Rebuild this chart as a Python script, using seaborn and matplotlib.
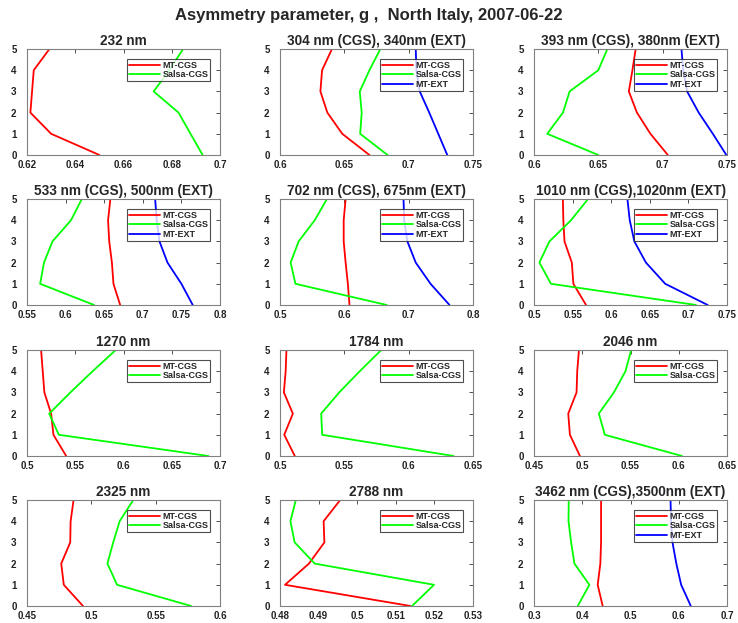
import numpy as np
import pandas as pd
import matplotlib
matplotlib.use("Agg")
import matplotlib.pyplot as plt
import seaborn as sns

sns.set_style("white")
plt.rcParams['font.family'] = ['Liberation Sans', 'DejaVu Sans']

heights = [0, 1, 2, 3, 4, 5]

titles = ["232 nm", "304 nm (CGS), 340nm (EXT)", "393 nm (CGS), 380nm (EXT)",
          "533 nm (CGS), 500nm (EXT)", "702 nm (CGS), 675nm (EXT)", "1010 nm (CGS),1020nm (EXT)",
          "1270 nm", "1784 nm", "2046 nm",
          "2325 nm", "2788 nm", "3462 nm (CGS),3500nm (EXT)"]

mt_cgs_232 = [0.650, 0.630, 0.6214, 0.6221, 0.6228, 0.6293]
salsa_232 = [0.6928, 0.6878, 0.6828, 0.6725, 0.6790, 0.6847]

mt_cgs_304 = [0.6695, 0.6484, 0.6368, 0.6314, 0.6327, 0.6404]
salsa_304 = [0.6836, 0.6623, 0.6635, 0.6620, 0.6695, 0.6780]
mt_ext_340 = [0.7300, 0.7230, 0.7160, 0.7086, 0.7060, 0.7055]

mt_cgs_393 = [0.7040, 0.6905, 0.6800, 0.6737, 0.6765, 0.6790]
salsa_393 = [0.6500, 0.6103, 0.6225, 0.6277, 0.6500, 0.6570]
mt_ext_380 = [0.7495, 0.7390, 0.7280, 0.7190, 0.7160, 0.7146]

mt_cgs_533 = [0.6707, 0.6620, 0.6600, 0.6565, 0.6550, 0.6580]
salsa_533 = [0.6370, 0.5670, 0.5720, 0.5830, 0.6070, 0.6210]
mt_ext_500 = [0.7647, 0.7500, 0.7320, 0.7216, 0.7180, 0.7160]

mt_cgs_702 = [0.6080, 0.6055, 0.6020, 0.5990, 0.5990, 0.6020]
salsa_702 = [0.6660, 0.5240, 0.5165, 0.5290, 0.5540, 0.5730]
mt_ext_675 = [0.7635, 0.7340, 0.7110, 0.6980, 0.6930, 0.6920]

mt_cgs_1010 = [0.5674, 0.5510, 0.5490, 0.5395, 0.5380, 0.5374]
salsa_1010 = [0.7100, 0.5220, 0.5070, 0.5200, 0.5480, 0.5700]
mt_ext_1020 = [0.7250, 0.6700, 0.6450, 0.6300, 0.6240, 0.6210]

mt_cgs_1270 = [0.5406, 0.5274, 0.5250, 0.5180, 0.5163, 0.5146]
salsa_1270 = [0.6880, 0.5330, 0.5230, 0.5450, 0.5680, 0.5920]

mt_cgs_1784 = [0.5115, 0.5033, 0.5100, 0.5030, 0.5044, 0.5050]
salsa_1784 = [0.6350, 0.5328, 0.5320, 0.5460, 0.5620, 0.5787]

mt_cgs_2046 = [0.4976, 0.4872, 0.4855, 0.4941, 0.4948, 0.4966]
salsa_2046 = [0.6034, 0.5234, 0.5172, 0.5328, 0.5448, 0.5507]

mt_cgs_2325 = [0.4935, 0.4786, 0.4766, 0.4836, 0.4839, 0.4862]
salsa_2325 = [0.5776, 0.5200, 0.5125, 0.5170, 0.5220, 0.5326]

mt_cgs_2788 = [0.5138, 0.4813, 0.4875, 0.4915, 0.4913, 0.4956]
salsa_2788 = [0.5142, 0.5199, 0.4890, 0.4838, 0.4827, 0.4841]

mt_cgs_3462 = [0.4423, 0.4320, 0.4375, 0.4390, 0.4390, 0.4390]
salsa_3462 = [0.3907, 0.4148, 0.3838, 0.3770, 0.3715, 0.3720]
mt_ext_3500 = [0.6250, 0.6050, 0.5950, 0.5870, 0.5840, 0.5830]

xticks_list = [
    [0.62, 0.64, 0.66, 0.68, 0.7],
    [0.6, 0.65, 0.7, 0.75],
    [0.6, 0.65, 0.7, 0.75],
    [0.55, 0.6, 0.65, 0.7, 0.75, 0.8],
    [0.5, 0.6, 0.7, 0.8],
    [0.5, 0.55, 0.6, 0.65, 0.7, 0.75],
    [0.5, 0.55, 0.6, 0.65, 0.7],
    [0.5, 0.55, 0.6, 0.65],
    [0.45, 0.5, 0.55, 0.6, 0.65],
    [0.45, 0.5, 0.55, 0.6],
    [0.48, 0.49, 0.5, 0.51, 0.52, 0.53],
    [0.3, 0.4, 0.5, 0.6, 0.7],
]

series = [
    [mt_cgs_232, salsa_232, None],
    [mt_cgs_304, salsa_304, mt_ext_340],
    [mt_cgs_393, salsa_393, mt_ext_380],
    [mt_cgs_533, salsa_533, mt_ext_500],
    [mt_cgs_702, salsa_702, mt_ext_675],
    [mt_cgs_1010, salsa_1010, mt_ext_1020],
    [mt_cgs_1270, salsa_1270, None],
    [mt_cgs_1784, salsa_1784, None],
    [mt_cgs_2046, salsa_2046, None],
    [mt_cgs_2325, salsa_2325, None],
    [mt_cgs_2788, salsa_2788, None],
    [mt_cgs_3462, salsa_3462, mt_ext_3500],
]

labels = ["MT-CGS", "Salsa-CGS", "MT-EXT"]
colors = ["#ff0000", "#00ff00", "#0000ff"]

W, H = 738, 623
fig = plt.figure(figsize=(W / 100, H / 100), dpi=100)
lefts = [27, 280, 534]
tops = [49, 199, 350, 500]
aw, ah = 193, 106

for i in range(12):
    r, c = divmod(i, 3)
    ax = fig.add_axes([lefts[c] / W, 1 - (tops[r] + ah) / H, aw / W, ah / H])
    for vals, lab, col in zip(series[i], labels, colors):
        if vals is None:
            continue
        df = pd.DataFrame({"g": vals, "z": heights})
        sns.lineplot(data=df, x="g", y="z", orient="y", sort=False, estimator=None,
                     color=col, lw=1.3, label=lab, ax=ax)
    xt = xticks_list[i]
    ax.set_xlim(xt[0], xt[-1])
    ax.set_ylim(0, 5)
    ax.set_xticks(xt)
    ax.set_xticklabels(["%g" % v for v in xt])
    ax.set_yticks(heights)
    ax.set_xlabel("")
    ax.set_ylabel("")
    ax.tick_params(direction="in", top=True, right=True, length=3, width=0.6,
                   labelsize=7, colors="#333333", labelcolor="#222222")
    ax.tick_params(axis="x", pad=3.5)
    ax.tick_params(axis="y", pad=7.5)
    for lbl in ax.get_xticklabels() + ax.get_yticklabels():
        lbl.set_fontweight("bold")
    for sp in ax.spines.values():
        sp.set_color("#808080")
        sp.set_linewidth(0.8)
    ax.set_title(titles[i], fontsize=9.8, fontweight="bold", pad=3)
    leg = ax.legend(loc="upper right", bbox_to_anchor=(0.95, 0.905), fontsize=6.5,
                    frameon=True, fancybox=False, handlelength=3.4, borderpad=0.2,
                    labelspacing=0.05, handletextpad=0.3, borderaxespad=0.0)
    leg.get_frame().set_edgecolor("#222222")
    leg.get_frame().set_linewidth(0.8)
    for t in leg.get_texts():
        t.set_fontweight("bold")

fig.suptitle("Asymmetry parameter, g ,  North Italy, 2007-06-22", fontsize=12,
             fontweight="bold", y=0.987)
fig.savefig("out.png", dpi=100, facecolor="white")
